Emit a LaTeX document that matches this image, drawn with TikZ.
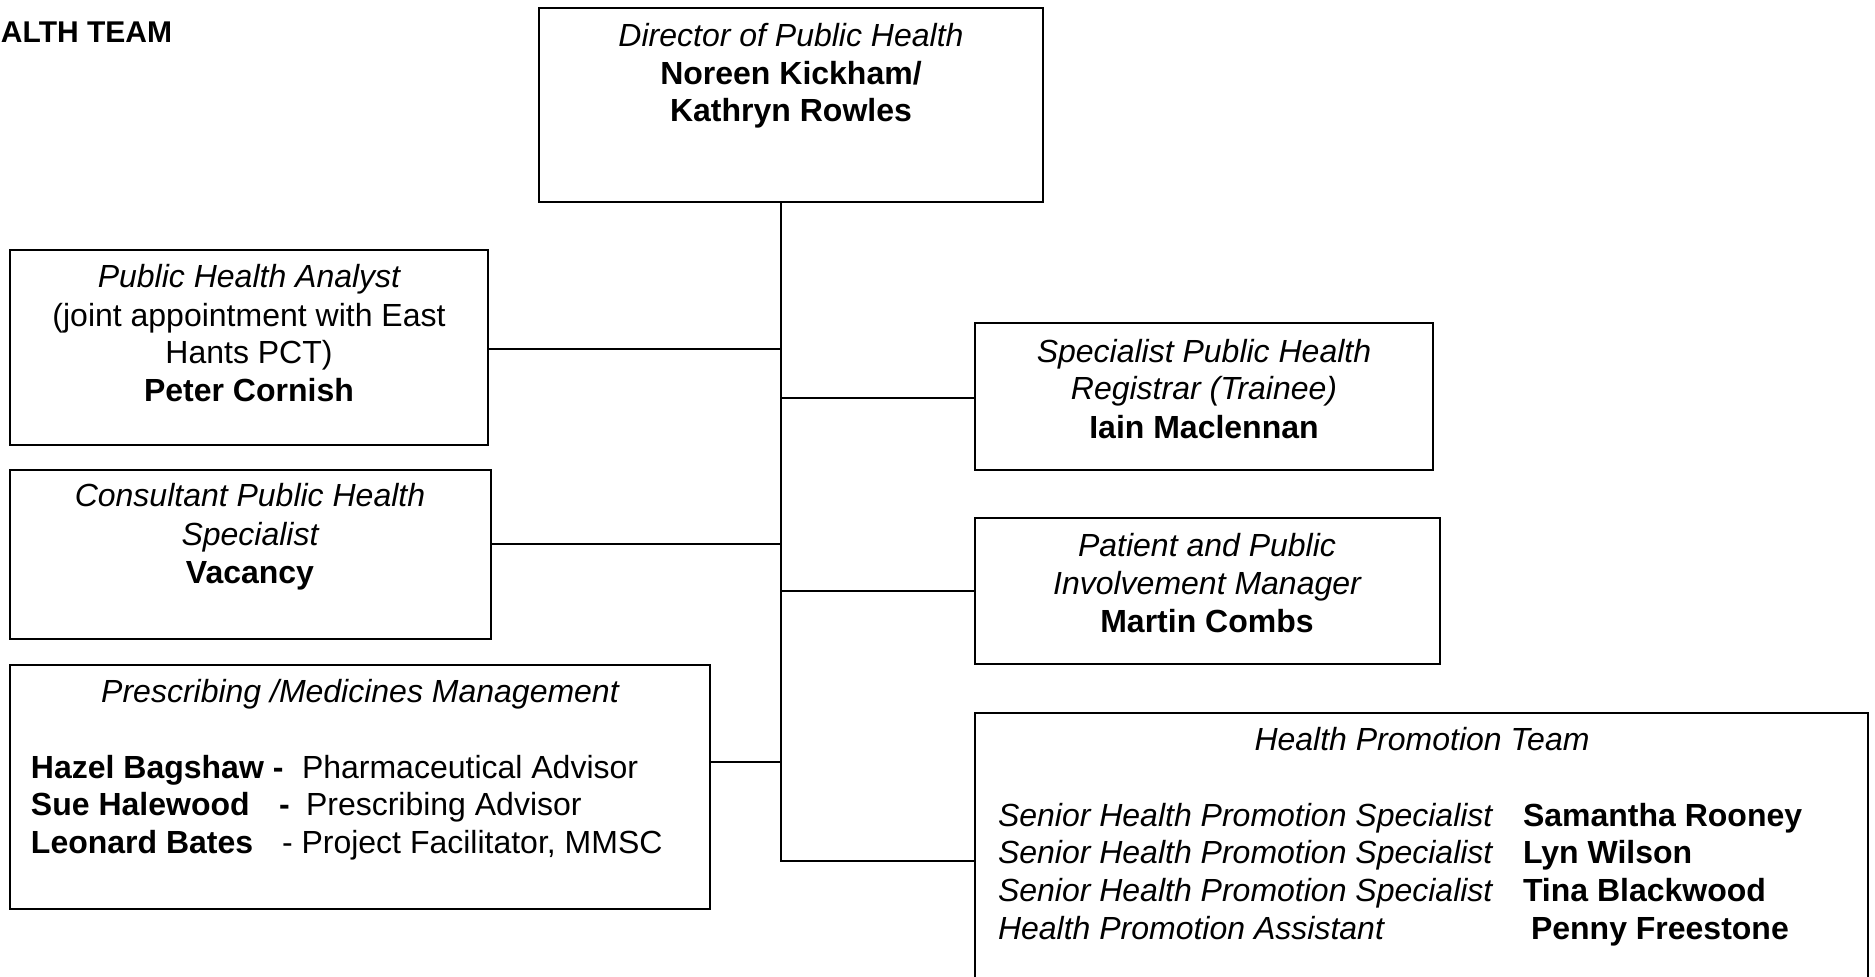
\documentclass[tikz,border=0pt]{standalone}
\usepackage{fontspec}
\setmainfont{Liberation Sans}
\begin{document}
\begin{tikzpicture}[x=0.5pt,y=-0.5pt,
  box/.style={draw=black, line width=1pt, rectangle, inner sep=0pt, outer sep=0pt, anchor=north west},
  ln/.style={inner sep=0pt, outer sep=0pt, anchor=base, font=\fontsize{16}{18.8}\selectfont},
  lw/.style={ln, anchor=base west},
  conn/.style={draw=black, line width=1pt}]
\clip (0,0) rectangle (1875,977);
\fill[white] (0,0) rectangle (1875,977);
% title fragment
\node[ln, anchor=base west, font=\fontsize{15}{18}\selectfont\bfseries] (ttl) at (1,43) {ALTH TEAM};
% boxes
\node[box, minimum width=252pt, minimum height=97pt] (dir) at (539,8) {};
\node[box, minimum width=239pt, minimum height=97.5pt] (ana) at (10,250) {};
\node[box, minimum width=240.5pt, minimum height=84.5pt] (cons) at (10,470) {};
\node[box, minimum width=350pt, minimum height=122pt] (pres) at (10,665) {};
\node[box, minimum width=229pt, minimum height=73.5pt] (spec) at (975,323) {};
\node[box, minimum width=232.5pt, minimum height=73pt] (pat) at (975,518) {};
\node[box, minimum width=446.5pt, minimum height=150pt] (hp) at (975,713) {};
% director text
\node[ln] (d1) at (791,47) {\itshape Director of Public Health};
\node[ln] (d2) at (791,85) {\bfseries Noreen Kickham/};
\node[ln] (d3) at (791,122) {\bfseries Kathryn Rowles};
% analyst
\node[ln] (a1) at (249,288) {\itshape Public Health Analyst};
\node[ln] (a2) at (249,327) {(joint appointment with East};
\node[ln] (a3) at (249,364) {Hants PCT)};
\node[ln] (a4) at (249,402) {\bfseries Peter Cornish};
% consultant
\node[ln] (c1) at (250,507) {\itshape Consultant Public Health};
\node[ln] (c2) at (250,546) {\itshape Specialist};
\node[ln] (c3) at (250,584) {\bfseries Vacancy};
% specialist registrar
\node[ln] (s1) at (1204,363) {\itshape Specialist Public Health};
\node[ln] (s2) at (1204,400) {\itshape Registrar (Trainee)};
\node[ln] (s3) at (1204,439) {\bfseries Iain Maclennan};
% patient
\node[ln] (p1) at (1207,557) {\itshape Patient and Public};
\node[ln] (p2) at (1207,595) {\itshape Involvement Manager};
\node[ln] (p3) at (1207,633) {\bfseries Martin Combs};
% prescribing
\node[ln] (m0) at (360,703) {\itshape Prescribing /Medicines Management};
\node[lw] (m1a) at (31,779) {\bfseries Hazel Bagshaw -};
\node[lw] (m1b) at (302,779) {Pharmaceutical Advisor};
\node[lw] (m2a) at (31,816) {\bfseries Sue Halewood};
\node[lw] (m2b) at (279,816) {\bfseries -};
\node[lw] (m2c) at (306,816) {Prescribing Advisor};
\node[lw] (m3a) at (31,854) {\bfseries Leonard Bates};
\node[lw] (m3b) at (282,854) {- Project Facilitator, MMSC};
% health promotion
\node[ln] (h0) at (1422,751) {\itshape Health Promotion Team};
\node[lw] (h1a) at (998,827) {\itshape Senior Health Promotion Specialist};
\node[lw] (h1b) at (1523,827) {\bfseries Samantha Rooney};
\node[lw] (h2a) at (998,864) {\itshape Senior Health Promotion Specialist};
\node[lw] (h2b) at (1523,864) {\bfseries Lyn Wilson};
\node[lw] (h3a) at (998,902) {\itshape Senior Health Promotion Specialist};
\node[lw] (h3b) at (1523,902) {\bfseries Tina Blackwood};
\node[lw] (h4a) at (998,940) {\itshape Health Promotion Assistant};
\node[lw] (h4b) at (1531,940) {\bfseries Penny Freestone};
% connectors
\coordinate (tr) at (781,861);
\draw[conn] (dir.south -| tr) -- (tr) -- (tr -| hp.west);
\draw[conn] ([yshift=-0.75pt]ana.east) -- ([yshift=-0.75pt]ana.east -| tr);
\draw[conn] ([yshift=5.25pt]cons.east) -- ([yshift=5.25pt]cons.east -| tr);
\draw[conn] ([yshift=12.5pt]pres.east) -- ([yshift=12.5pt]pres.east -| tr);
\draw[conn] ([yshift=-0.75pt]spec.west) -- ([yshift=-0.75pt]spec.west -| tr);
\draw[conn] (pat.west) -- (pat.west -| tr);
\end{tikzpicture}
\end{document}
